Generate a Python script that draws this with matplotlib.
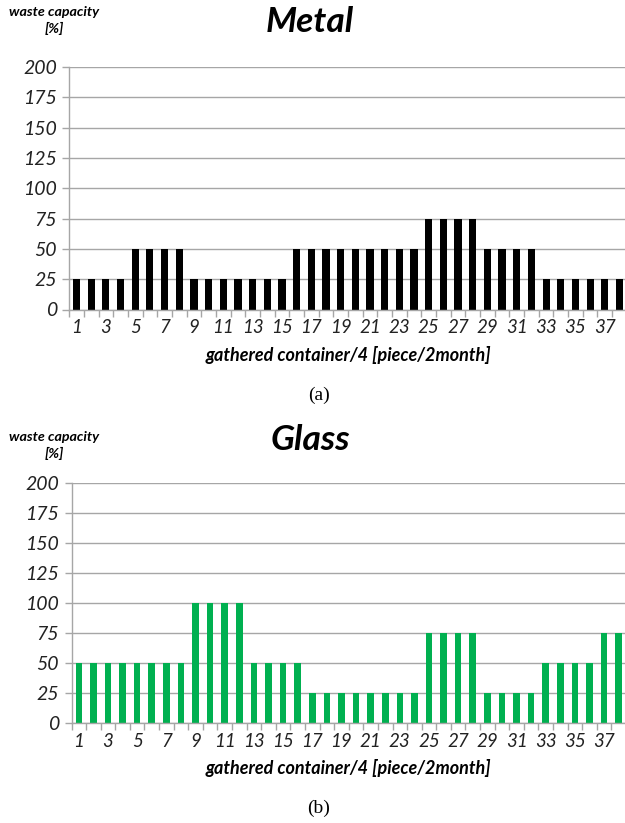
import numpy as np
import matplotlib
matplotlib.use("Agg")
import matplotlib.pyplot as plt
from matplotlib.ticker import FixedLocator

# Container index (gathered container / 4)
containers = list(range(1, 39))

# Waste capacity [%] per container
metal = [25, 25, 25, 25, 50, 50, 50, 50,
         25, 25, 25, 25, 25, 25, 25,
         50, 50, 50, 50, 50, 50, 50, 50, 50,
         75, 75, 75, 75,
         50, 50, 50, 50,
         25, 25, 25, 25, 25, 25]
glass = [50, 50, 50, 50, 50, 50, 50, 50,
         100, 100, 100, 100,
         50, 50, 50, 50,
         25, 25, 25, 25, 25, 25, 25, 25,
         75, 75, 75, 75,
         25, 25, 25, 25,
         50, 50, 50, 50,
         75, 75]

y_ticks = [0, 25, 50, 75, 100, 125, 150, 175, 200]
x_labels = [str(c) if c % 2 == 1 else "" for c in containers]

titles = ["Metal", "Glass"]
panel_tags = ["(a)", "(b)"]
colors = ["#000000", "#00B050"]
ylabel_top = "waste capacity"
ylabel_bottom = "[%]"
xlabel = "gathered container/4 [piece/2month]"

W, H = 625, 823
fig = plt.figure(figsize=(W / 100, H / 100), dpi=100)

SANS = "Lato"
GRID = "#A6A6A6"


def px_rect(left, top, right, bottom):
    return [left / W, 1 - bottom / H, (right - left) / W, (bottom - top) / H]


panels = [
    dict(rect=px_rect(69.3, 67, 626.7, 309.5), series=metal, width=0.48,
         title_y=22, yl_y=12, tag_y=395, xl_y=355),
    dict(rect=px_rect(71.5, 482.7, 626.0, 723.3), series=glass, width=0.45,
         title_y=440, yl_y=437, tag_y=808, xl_y=768),
]

for i, p in enumerate(panels):
    ax = fig.add_axes(p["rect"])
    ax.bar(containers, p["series"], width=p["width"], color=colors[i],
           zorder=3, linewidth=0)
    ax.set_xlim(0.5, 38.5)
    ax.set_ylim(0, 200)
    ax.set_yticks(y_ticks)
    ax.set_yticklabels([str(v) for v in y_ticks], fontfamily=SANS,
                       fontstyle="italic", fontsize=14, color="#222222")
    ax.grid(axis="y", color=GRID, linewidth=1.0, zorder=0)
    ax.set_axisbelow(True)

    ax.xaxis.set_major_locator(FixedLocator(containers))
    ax.set_xticklabels(x_labels, fontfamily=SANS, fontstyle="italic",
                       fontsize=13.5, color="#222222")
    ax.xaxis.set_minor_locator(FixedLocator(np.arange(0.5, 39, 1.0)))
    ax.tick_params(axis="x", which="major", length=0, pad=7)
    ax.tick_params(axis="x", which="minor", length=5, color=GRID, width=1)
    ax.tick_params(axis="y", length=5, color=GRID, width=1, pad=4)

    for side in ["top", "right"]:
        ax.spines[side].set_visible(False)
    for side in ["left", "bottom"]:
        ax.spines[side].set_color(GRID)
        ax.spines[side].set_linewidth(1.0)
        ax.spines[side].set_zorder(4)

    fig.text(310 / W, 1 - p["title_y"] / H, titles[i], ha="center",
             va="center", fontfamily=SANS, fontstyle="italic",
             fontweight="bold", fontsize=25.5)
    fig.text(54 / W, 1 - p["yl_y"] / H, ylabel_top, ha="center", va="center",
             fontfamily=SANS, fontstyle="italic", fontweight="bold",
             fontsize=10.3)
    fig.text(54 / W, 1 - (p["yl_y"] + 16) / H, ylabel_bottom, ha="center",
             va="center", fontfamily=SANS, fontstyle="italic",
             fontweight="bold", fontsize=10.3)
    fig.text(348 / W, 1 - p["xl_y"] / H, xlabel, ha="center", va="center",
             fontfamily=SANS, fontstyle="italic", fontweight="bold",
             fontsize=13)
    fig.text(319 / W, 1 - p["tag_y"] / H, panel_tags[i], ha="center",
             va="center", fontfamily="Liberation Serif", fontsize=14)

fig.savefig("out.png", dpi=100)
